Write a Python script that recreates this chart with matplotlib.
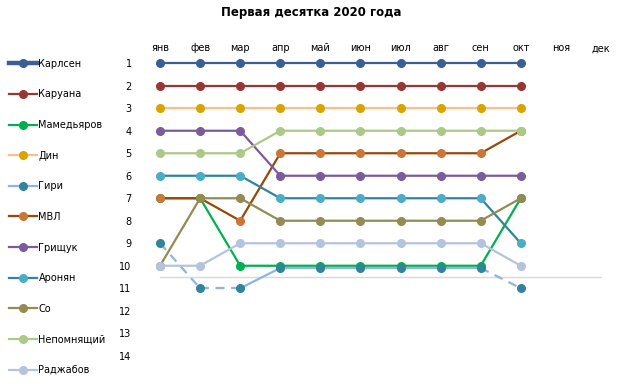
import matplotlib.pyplot as plt
from matplotlib.lines import Line2D

months = ["янв", "фев", "мар", "апр", "май", "июн", "июл", "авг", "сен", "окт", "ноя", "дек"]
players = ["Карлсен", "Каруана", "Мамедьяров", "Дин", "Гири", "МВЛ",
           "Грищук", "Аронян", "Со", "Непомнящий", "Раджабов"]

# rank by month (янв..окт)
carlsen = [1, 1, 1, 1, 1, 1, 1, 1, 1, 1]
caruana = [2, 2, 2, 2, 2, 2, 2, 2, 2, 2]
mamedyarov = [7, 7, 10, 10, 10, 10, 10, 10, 10, 7]
ding = [3, 3, 3, 3, 3, 3, 3, 3, 3, 3]
giri = [9, 11, 11, 10.1, 10.1, 10.1, 10.1, 10.1, 10.1, 11]
mvl = [7, 7, 8, 5, 5, 5, 5, 5, 5, 4]
grischuk = [4, 4, 4, 6, 6, 6, 6, 6, 6, 6]
aronian = [6, 6, 6, 7, 7, 7, 7, 7, 7, 9]
so = [10, 7, 7, 8, 8, 8, 8, 8, 8, 7]
nepo = [5, 5, 5, 4, 4, 4, 4, 4, 4, 4]
radjabov = [10, 10, 9, 9, 9, 9, 9, 9, 9, 10]

series = [carlsen, caruana, mamedyarov, ding, giri, mvl,
          grischuk, aronian, so, nepo, radjabov]
line_colors = ["#3B5F92", "#953735", "#00B050", "#FAC090", "#8EB4E3", "#984807",
               "#7A5C9C", "#31849B", "#948A54", "#ADC988", "#B4C3DE"]
marker_colors = ["#3B5F92", "#953735", "#00B050", "#D9A300", "#31849B", "#CB7637",
                 "#7A5C9C", "#4BACC6", "#948A54", "#ADC988", "#B4C3DE"]

# Гири: dashed where outside the top ten
giri_dashed = [(0, 1), (1, 2), (8, 9)]

plt.rcParams['font.family'] = ['DejaVu Sans']

fig = plt.figure(figsize=(6.23, 3.90), dpi=100)
ax = fig.add_axes([140 / 623, 1 - 367 / 390, 481 / 623, 315 / 390])

x_all = list(range(len(months)))
ax.plot([0, 11], [10.5, 10.5], color="#D9D9D9", lw=1, zorder=1)

handles = []
for i, (name, vals) in enumerate(zip(players, series)):
    xs = x_all[:len(vals)]
    lc, mc = line_colors[i], marker_colors[i]
    if name == "Гири":
        for a in range(len(vals) - 1):
            ls = "--" if (a, a + 1) in giri_dashed else "-"
            ax.plot(xs[a:a + 2], vals[a:a + 2], color=lc, lw=1.6, ls=ls,
                    dashes=(4, 3) if ls == "--" else (None, None), zorder=2 + i * 0.1)
    else:
        ax.plot(xs, vals, color=lc, lw=1.6, zorder=2 + i * 0.1)
    ax.plot(xs, vals, ls="none", marker="o", ms=5.5, color=mc, zorder=3 + i * 0.1)
    lw = 3.2 if i == 0 else 1.6
    handles.append(Line2D([0], [0], color=lc, lw=lw, marker="o", ms=5.5,
                          markerfacecolor=mc, markeredgecolor=mc, label=name))

ax.set_xlim(-0.5, 11.5)
ax.set_ylim(14.5, 0.5)
ax.set_xticks(x_all)
ax.set_xticklabels(months)
ax.set_yticks(range(1, 15))
ax.xaxis.tick_top()
ax.tick_params(axis="both", length=0, labelsize=7, colors="black")
ax.tick_params(axis="y", pad=6)
ax.tick_params(axis="x", pad=-1)
for s in ax.spines.values():
    s.set_visible(False)

fig.legend(handles=handles, loc="upper left", bbox_to_anchor=(0.004, 1 - 52 / 390),
           frameon=False, fontsize=7, handlelength=2.8, handletextpad=0.2,
           labelspacing=2.12, borderaxespad=0.3)

fig.suptitle("Первая десятка 2020 года", fontsize=8.5, fontweight="bold", y=0.985)

fig.savefig("out.png", dpi=100)
